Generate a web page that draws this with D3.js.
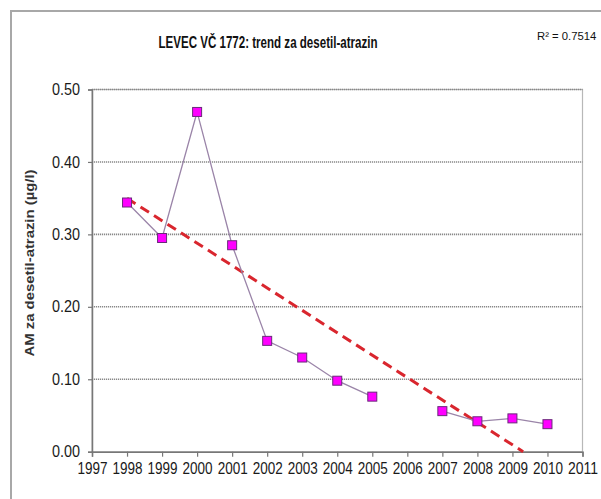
<!DOCTYPE html>
<html><head><meta charset="utf-8">
<script src="https://cdn.jsdelivr.net/npm/d3@7"></script>
<style>body{margin:0;background:#fff;}svg{display:block;}</style>
</head><body>
<svg id="c" width="601" height="499"></svg>
<script>
const title = "LEVEC VČ 1772: trend za desetil-atrazin";
const yLabel = "AM za desetil-atrazin (µg/l)";
const r2Label = "R² = 0.7514";
const years = [1998, 1999, 2000, 2001, 2002, 2003, 2004, 2005, 2007, 2008, 2009, 2010];
const values = [0.344, 0.295, 0.469, 0.285, 0.153, 0.130, 0.098, 0.076, 0.056, 0.042, 0.046, 0.038];
const xTicks = [1997,1998,1999,2000,2001,2002,2003,2004,2005,2006,2007,2008,2009,2010,2011];
const yTicks = [0, 0.1, 0.2, 0.3, 0.4, 0.5];

const svg = d3.select("#c");
const L = 92, R = 582.5, T = 89.5, B = 451.7;
const x = d3.scaleLinear().domain([1997, 2011]).range([L, R]);
const y = d3.scaleLinear().domain([0, 0.5]).range([B, T]);

// outer frame
svg.append("rect").attr("x", 11).attr("y", 11).attr("width", 620).attr("height", 520)
  .attr("fill", "#fff").attr("stroke", "#a8a8a8").attr("stroke-width", 2);

// plot area border
svg.append("rect").attr("x", L).attr("y", T).attr("width", R - L).attr("height", B - T)
  .attr("fill", "none").attr("stroke", "#b8b8b8").attr("stroke-width", 1.2);

// gridlines
svg.append("g").selectAll("line").data(yTicks.filter(d => d > 0)).join("line")
  .attr("x1", L).attr("x2", R).attr("y1", d => y(d)).attr("y2", d => y(d))
  .attr("stroke", "#888").attr("stroke-width", 1.6).attr("stroke-dasharray", "1.2,0.8");

// axes
const gy = svg.append("g").attr("transform", `translate(${L},0)`)
  .call(d3.axisLeft(y).tickValues(yTicks).tickFormat(d3.format(".2f")).tickSize(4).tickPadding(8));
const gx = svg.append("g").attr("transform", `translate(0,${B})`)
  .call(d3.axisBottom(x).tickValues(xTicks).tickFormat(d3.format("d")).tickSize(5).tickPadding(6));
[gx, gy].forEach(g => {
  g.select(".domain").attr("stroke", "#777").attr("stroke-width", 1.5);
  g.selectAll(".tick line").attr("stroke", "#777").attr("stroke-width", 1.2);
  g.selectAll(".tick text").attr("font-family", "Liberation Sans, Arial, sans-serif")
    .attr("font-size", 16).attr("fill", "#1a1a1a")
    .attr("textLength", 28).attr("lengthAdjust", "spacingAndGlyphs");
});
gx.selectAll(".tick text").attr("textLength", 30);

// trend line (least squares over data), clipped at y = 0
const mx = d3.mean(years), my = d3.mean(values);
const slope = d3.sum(years, (v, i) => (v - mx) * (values[i] - my)) / d3.sum(years, v => (v - mx) ** 2);
const icpt = my - slope * mx;
const x0 = d3.min(years), xEnd = -icpt / slope;
svg.append("line")
  .attr("x1", x(x0)).attr("y1", y(icpt + slope * x0))
  .attr("x2", x(xEnd)).attr("y2", y(0))
  .attr("stroke", "#d9262e").attr("stroke-width", 3).attr("stroke-dasharray", "10,6");

// data line with gap at 2006
const pts = years.map((yr, i) => ({yr, v: values[i]}));
const segs = [pts.filter(p => p.yr < 2006), pts.filter(p => p.yr > 2006)];
const line = d3.line().x(d => x(d.yr)).y(d => y(d.v));
svg.append("g").selectAll("path").data(segs).join("path")
  .attr("d", line).attr("fill", "none").attr("stroke", "#9a84a8").attr("stroke-width", 1.3);

// markers
svg.append("g").selectAll("rect").data(pts).join("rect")
  .attr("x", d => x(d.yr) - 4.5).attr("y", d => y(d.v) - 4.5)
  .attr("width", 9).attr("height", 9)
  .attr("fill", "#ff00ff").attr("stroke", "#6a2a7a").attr("stroke-width", 1);

// titles
svg.append("text").attr("x", 268).attr("y", 48).attr("text-anchor", "middle")
  .attr("font-family", "Liberation Sans, Arial, sans-serif").attr("font-weight", "bold")
  .attr("font-size", 17).attr("fill", "#111")
  .attr("textLength", 219).attr("lengthAdjust", "spacingAndGlyphs").text(title);
svg.append("text").attr("x", 537).attr("y", 40)
  .attr("font-family", "Liberation Sans, Arial, sans-serif")
  .attr("font-size", 11.3).attr("fill", "#111").text(r2Label);
svg.append("text").attr("transform", "translate(34,263) rotate(-90)").attr("text-anchor", "middle")
  .attr("font-family", "Liberation Sans, Arial, sans-serif").attr("font-weight", "bold")
  .attr("font-size", 13).attr("fill", "#333")
  .attr("textLength", 187).attr("lengthAdjust", "spacingAndGlyphs").text(yLabel);
</script>
</body></html>
